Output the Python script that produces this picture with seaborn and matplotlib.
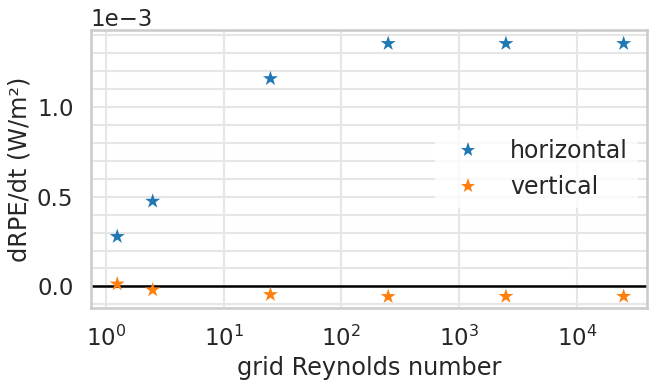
import numpy as np
import pandas as pd
import seaborn as sns
import matplotlib
matplotlib.use("Agg")
import matplotlib.pyplot as plt
from matplotlib.ticker import MultipleLocator
from matplotlib.lines import Line2D

grid_re = [1.25, 2.5, 25, 250, 2500, 25000]
horizontal = [0.278e-3, 0.475e-3, 1.159e-3, 1.355e-3, 1.355e-3, 1.355e-3]
vertical = [0.013e-3, -0.020e-3, -0.046e-3, -0.057e-3, -0.056e-3, -0.056e-3]
labels = ["horizontal", "vertical"]

df = pd.DataFrame({
    "Re": grid_re * 2,
    "dRPE": horizontal + vertical,
    "component": [labels[0]] * len(grid_re) + [labels[1]] * len(grid_re),
})

sns.set_theme(context="talk", style="whitegrid")
fig = plt.figure(figsize=(6.49, 3.81), dpi=100)
ax = fig.add_axes([0.140, 0.192, 0.857, 0.729])

pal = sns.color_palette("tab10", 2)
sns.scatterplot(data=df, x="Re", y="dRPE", hue="component", palette=pal,
                marker="*", s=130, edgecolor="none", ax=ax, legend=False, zorder=3)
ax.axhline(0, color="black", lw=1.8, zorder=2)
ax.set_xscale("log")
ax.set_xlim(0.746, 39500)
ax.set_ylim(-0.12e-3, 1.43e-3)
ax.yaxis.set_major_locator(MultipleLocator(0.5e-3))
ax.yaxis.set_minor_locator(MultipleLocator(0.1e-3))
ax.ticklabel_format(axis="y", style="sci", scilimits=(-3, -3))
ax.grid(True, which="major", color="0.9", lw=1.5)
ax.grid(True, which="minor", axis="y", color="0.9", lw=1.5)
ax.tick_params(which="minor", length=0)
ax.set_xlabel("grid Reynolds number", fontsize=17.3)
ax.set_ylabel("dRPE/dt (W/m²)", fontsize=17.3)
for s in ax.spines.values():
    s.set_color("0.8")

handles = [Line2D([], [], ls="", marker="*", markersize=11, color=c, markeredgewidth=0) for c in pal]
leg = ax.legend(handles, labels, loc="center right", frameon=True, fontsize=17,
                borderaxespad=0.4)
leg.get_frame().set_edgecolor("none")
leg.get_frame().set_alpha(0.8)

fig.savefig("out.png", dpi=100)
